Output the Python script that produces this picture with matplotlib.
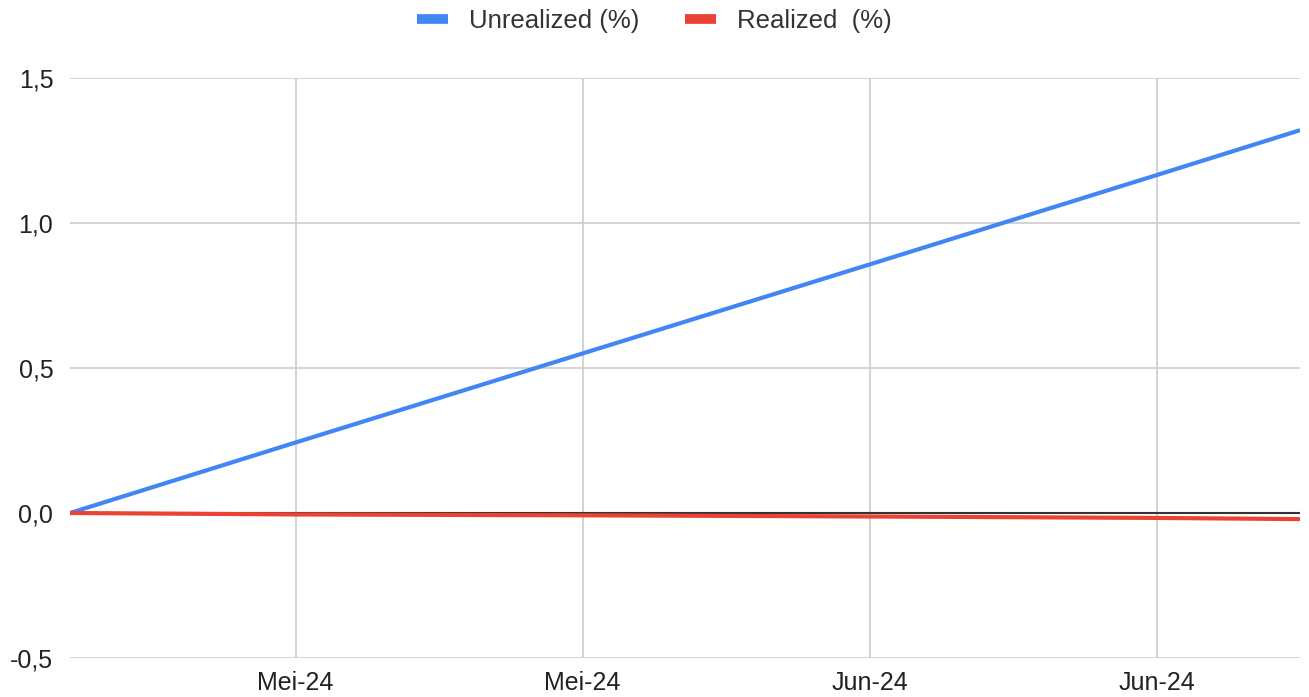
import numpy as np
import matplotlib.pyplot as plt
import matplotlib.dates as mdates
from datetime import date

plt.rcParams['font.family'] = ['Liberation Sans', 'DejaVu Sans']

# values
dates = [date(2024, 4, 24), date(2024, 5, 5), date(2024, 5, 19),
         date(2024, 6, 2), date(2024, 6, 16), date(2024, 6, 23)]
unrealized = [0.0, 0.243, 0.55, 0.857, 1.165, 1.32]
realized = [0.0, -0.005, -0.008, -0.012, -0.017, -0.021]

tick_dates = [date(2024, 5, 5), date(2024, 5, 19), date(2024, 6, 2), date(2024, 6, 16)]
tick_labels = ['Mei-24', 'Mei-24', 'Jun-24', 'Jun-24']
y_ticks = [-0.5, 0.0, 0.5, 1.0, 1.5]
y_labels = ['-0,5', '0,0', '0,5', '1,0', '1,5']

fig = plt.figure(figsize=(13.09, 6.97), dpi=100)
ax = fig.add_axes([70 / 1309, 1 - 658 / 697, 1230 / 1309, 580 / 697])

ax.axhline(0, color='#333333', lw=1.5, zorder=2)
ax.plot(dates, unrealized, color='#4285F4', lw=3, label='Unrealized (%)', zorder=3,
        solid_capstyle='butt')
ax.plot(dates, realized, color='#EA4335', lw=3, label='Realized  (%)', zorder=3,
        solid_capstyle='butt')

ax.set_xlim(dates[0], dates[-1])
ax.set_ylim(-0.5, 1.5)
ax.set_xticks([mdates.date2num(d) for d in tick_dates])
ax.set_xticklabels(tick_labels)
ax.set_yticks(y_ticks)
ax.set_yticklabels(y_labels)
ax.grid(True, color='#cccccc', lw=1.2)
ax.set_axisbelow(True)
for s in ax.spines.values():
    s.set_visible(False)
ax.tick_params(length=0, labelsize=18, colors='#222222')
ax.tick_params(axis='x', pad=9)
ax.tick_params(axis='y', pad=12)

leg = fig.legend(loc='upper center', bbox_to_anchor=(0.5, 1.02), ncol=2, frameon=False,
                 fontsize=18.5, handlelength=1.2, handletextpad=0.8, columnspacing=1.8)
for h in leg.get_lines():
    h.set_linewidth(7)
for t in leg.get_texts():
    t.set_color('#333333')

fig.savefig('out.png', dpi=100)
